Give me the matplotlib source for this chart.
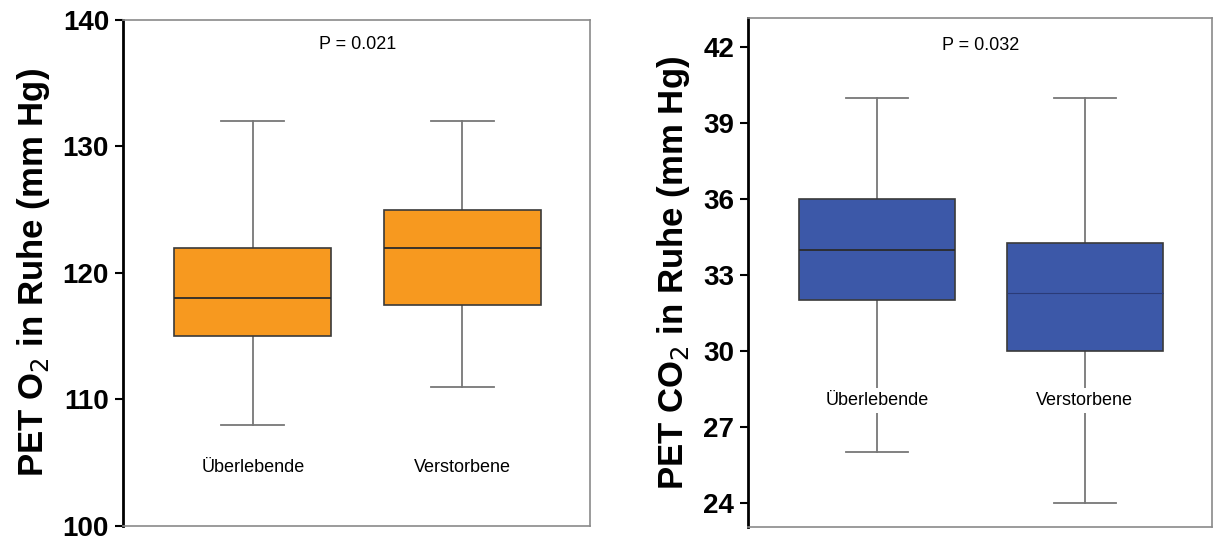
import matplotlib.pyplot as plt

plt.rcParams['font.family'] = ['Liberation Sans', 'DejaVu Sans']

groups = ["Überlebende", "Verstorbene"]

# PET O2 (mm Hg): lower whisker, Q1, median, Q3, upper whisker
o2_low = [108, 111]
o2_q1 = [115, 117.5]
o2_med = [118, 122]
o2_q3 = [122, 125]
o2_high = [132, 132]
o2_p = "P = 0.021"

# PET CO2 (mm Hg)
co2_low = [26, 24]
co2_q1 = [32, 30]
co2_med = [34, 32.3]
co2_q3 = [36, 34.25]
co2_high = [40, 40]
co2_p = "P = 0.032"


def make_stats(low, q1, med, q3, high):
    stats = []
    for i in range(len(groups)):
        stats.append({'whislo': low[i], 'q1': q1[i], 'med': med[i],
                      'q3': q3[i], 'whishi': high[i], 'fliers': []})
    return stats


def draw_panel(ax, stats, color, ylim, yticks, ylabel, ptext, pval, labval,
               thin_second_median=False):
    bp = ax.bxp(stats, positions=[1, 2], widths=0.75, patch_artist=True,
                showfliers=False,
                boxprops=dict(facecolor=color, edgecolor='#3a3a3a', linewidth=1.2),
                medianprops=dict(color='#2b2b2b', linewidth=1.3),
                whiskerprops=dict(color='#777777', linewidth=1.3),
                capprops=dict(color='#777777', linewidth=1.3),
                capwidths=0.3)
    for b in bp['boxes']:
        b.set_zorder(3)
    for m in bp['medians']:
        m.set_zorder(4)
    if thin_second_median:
        bp['medians'][1].set_linewidth(0.8)
        bp['medians'][1].set_color('#2a3b78')
    ax.set_xlim(0.38, 2.61)
    ax.set_ylim(*ylim)
    ax.set_yticks(yticks)
    ax.set_xticks([])
    for lab in ax.get_yticklabels():
        lab.set_fontweight('bold')
    ax.tick_params(axis='y', direction='out', length=6, width=1.5,
                   labelsize=20, pad=4)
    ax.set_ylabel(ylabel, fontsize=25, fontweight='bold', labelpad=8)
    for s in ['top', 'right', 'bottom']:
        ax.spines[s].set_color('#8a8a8a')
        ax.spines[s].set_linewidth(1.2)
    ax.spines['left'].set_color('black')
    ax.spines['left'].set_linewidth(2)
    ax.text(1.5, pval, ptext, ha='center', va='center', fontsize=13)
    for i, g in enumerate(groups):
        ax.text(i + 1, labval, g, ha='center', va='center', fontsize=13,
                zorder=5, bbox=dict(facecolor='white', edgecolor='none', pad=3))


fig = plt.figure(figsize=(12.17, 5.42), dpi=100)
ax1 = fig.add_axes([0.101, 0.03, 0.384, 0.933])
ax2 = fig.add_axes([0.6146, 0.0277, 0.381, 0.939])

draw_panel(ax1, make_stats(o2_low, o2_q1, o2_med, o2_q3, o2_high), '#F7991F',
           (100, 140), [100, 110, 120, 130, 140],
           'PET O$_2$ in Ruhe (mm Hg)', o2_p, 138.1, 104.6)
draw_panel(ax2, make_stats(co2_low, co2_q1, co2_med, co2_q3, co2_high), '#3C58A8',
           (23.05, 43.14), [24, 27, 30, 33, 36, 39, 42],
           'PET CO$_2$ in Ruhe (mm Hg)', co2_p, 42.05, 28.05,
           thin_second_median=True)

fig.savefig('out.png', dpi=100)
